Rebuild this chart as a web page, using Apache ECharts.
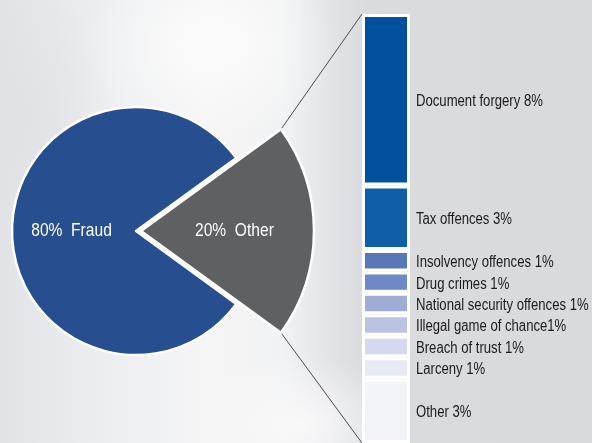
<!DOCTYPE html>
<html>
<head>
<meta charset="utf-8">
<script src="https://cdn.jsdelivr.net/npm/echarts@6/dist/echarts.min.js"></script>
<style>
  html, body { margin: 0; padding: 0; }
  body {
    width: 592px; height: 443px; overflow: hidden;
    background:
      radial-gradient(ellipse 130px 95px at 210px 45px, rgba(252,252,252,0.95), rgba(252,252,252,0) 100%),
      radial-gradient(ellipse 110px 70px at 300px 425px, rgba(250,250,251,0.9), rgba(250,250,251,0) 100%),
      radial-gradient(ellipse 90px 140px at 20px 120px, rgba(224,225,229,0.8), rgba(224,225,229,0) 100%),
      linear-gradient(90deg, #e2e3e7 0%, #eceef0 18%, #f5f5f6 35%, #f1f2f3 48%, #e2e3e6 56%, #d9dbde 62%, #d8dadd 100%);
  }
  #chart { width: 592px; height: 443px; }
</style>
</head>
<body>
<div id="chart"></div>
<script>
// Overall split of cases
const mainNames = ['Fraud', 'Other'];
const mainShares = [80, 20];

// Breakdown of the "Other" share
const categories = [
  'Document forgery', 'Tax offences', 'Insolvency offences', 'Drug crimes',
  'National security offences', 'Illegal game of chance', 'Breach of trust',
  'Larceny', 'Other'
];
const shares = [8, 3, 1, 1, 1, 1, 1, 1, 3];
const barColors = [
  '#00509e', '#0e5fa6', '#5878b9', '#6e89c5', '#9fadd6',
  '#bbc3e2', '#d4d9ed', '#e7e9f3', '#f3f4f9'
];

// Condensed look: regular sans squeezed horizontally
const FONT = '"Liberation Sans", Arial, sans-serif';
const SQUEEZE = 0.82;

// Layout
const PIE_CENTER = [136, 231];
const PIE_R = 124;
const OTHER_CENTER = [141, 231];
const OTHER_R = 173;
const GRID = { left: 362, top: 14, width: 48, bottom: -4 };
const LABEL_NUDGE = 2; // optical vertical centring of segment labels

const total = mainShares.reduce((a, b) => a + b, 0);
const otherTotal = shares.reduce((a, b) => a + b, 0);
const halfAngle = mainShares[1] / total * 180; // degrees either side of 3 o'clock

const chart = echarts.init(document.getElementById('chart'), null, { renderer: 'canvas' });

const barSeries = categories.map((name, i) => ({
  name: name,
  type: 'bar',
  stack: 'other',
  barWidth: '100%',
  silent: true,
  data: [shares[i]],
  label: { show: false },
  itemStyle: { color: barColors[i], borderColor: '#ffffff', borderWidth: 3 }
}));

const hidden = { color: 'rgba(0,0,0,0)', borderWidth: 0 };

chart.setOption({
  backgroundColor: 'transparent',
  animation: false,
  grid: { left: GRID.left, top: GRID.top, width: GRID.width, bottom: GRID.bottom },
  xAxis: { type: 'category', data: [''], show: false },
  yAxis: { type: 'value', min: 0, max: otherTotal, inverse: true, show: false },
  series: [
    {
      type: 'pie',
      silent: true,
      center: PIE_CENTER,
      radius: PIE_R,
      startAngle: halfAngle,
      clockwise: true,
      label: { show: false },
      labelLine: { show: false },
      itemStyle: { borderColor: '#ffffff', borderWidth: 2.5 },
      data: [
        { name: mainNames[1], value: mainShares[1], itemStyle: hidden },
        { name: mainNames[0], value: mainShares[0], itemStyle: { color: '#274f8f' } }
      ]
    },
    {
      type: 'pie',
      silent: true,
      center: OTHER_CENTER,
      radius: OTHER_R,
      startAngle: halfAngle,
      clockwise: true,
      label: { show: false },
      labelLine: { show: false },
      itemStyle: { borderColor: '#ffffff', borderWidth: 2.5 },
      data: [
        { name: mainNames[1], value: mainShares[1], itemStyle: { color: '#5f6062' } },
        { name: mainNames[0], value: mainShares[0], itemStyle: hidden }
      ]
    },
    ...barSeries
  ]
});

// Connector lines from the outer corners of the "Other" slice to the ends of the breakdown bar
const rad = halfAngle * Math.PI / 180;
const cornerTop = [OTHER_CENTER[0] + OTHER_R * Math.cos(rad), OTHER_CENTER[1] - OTHER_R * Math.sin(rad)];
const cornerBottom = [OTHER_CENTER[0] + OTHER_R * Math.cos(rad), OTHER_CENTER[1] + OTHER_R * Math.sin(rad)];
const barTop = chart.convertToPixel({ gridIndex: 0 }, [0, 0]);
const barBottom = chart.convertToPixel({ gridIndex: 0 }, [0, otherTotal]);
const halfBand = GRID.width / 2;
const barLeft = barTop[0] - halfBand;
const barRight = barTop[0] + halfBand;

function squeezedText(text, x, y, size, color, align) {
  return {
    type: 'text', silent: true, z: 100,
    x: x, y: y, scaleX: SQUEEZE,
    style: {
      text: text, x: 0, y: 0,
      fontFamily: FONT, fontSize: size, fill: color,
      align: align, verticalAlign: 'middle',
      textAlign: align, textVerticalAlign: 'middle'
    }
  };
}

const graphics = [
  {
    type: 'line', z: -1, silent: true,
    shape: { x1: cornerTop[0], y1: cornerTop[1], x2: barLeft, y2: barTop[1] },
    style: { stroke: '#4d4d4f', lineWidth: 1 }
  },
  {
    type: 'line', z: -1, silent: true,
    shape: { x1: cornerBottom[0], y1: cornerBottom[1], x2: barLeft, y2: barBottom[1] },
    style: { stroke: '#4d4d4f', lineWidth: 1 }
  }
];

// Slice labels, placed around the middle of each slice
graphics.push(squeezedText(mainShares[0] + '%  ' + mainNames[0],
  PIE_CENTER[0] - PIE_R * 0.52, PIE_CENTER[1], 19, '#ffffff', 'center'));
graphics.push(squeezedText(mainShares[1] + '%  ' + mainNames[1],
  OTHER_CENTER[0] + OTHER_R * 0.54, OTHER_CENTER[1], 19, '#ffffff', 'center'));

// Segment labels, to the right of each segment's middle
let cum = 0;
categories.forEach((name, i) => {
  const mid = chart.convertToPixel({ gridIndex: 0 }, [0, cum + shares[i] / 2]);
  const sep = name === 'Illegal game of chance' ? '' : ' ';
  graphics.push(squeezedText(name + sep + shares[i] + '%', barRight + 6, mid[1] + LABEL_NUDGE, 16, '#1c1a1b', 'left'));
  cum += shares[i];
});

chart.setOption({ graphic: graphics });
</script>
</body>
</html>
